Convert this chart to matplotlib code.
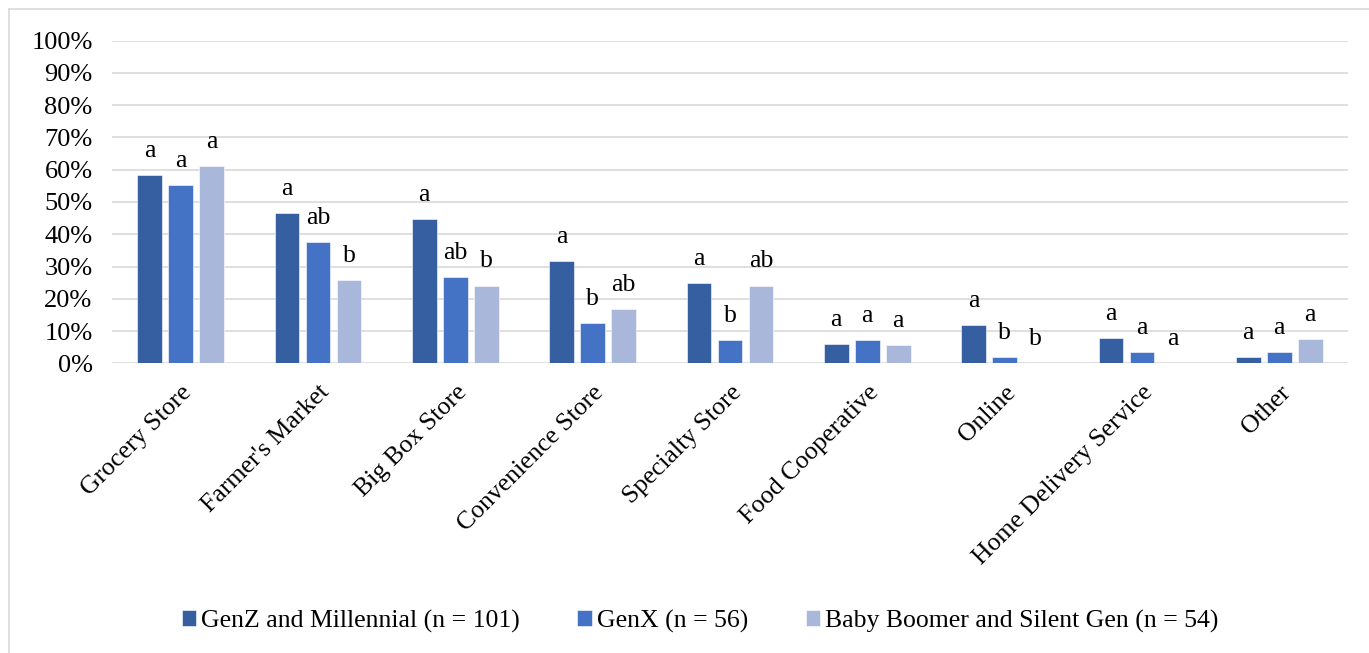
import matplotlib
matplotlib.use("Agg")
import matplotlib.pyplot as plt
import numpy as np
from matplotlib.lines import Line2D

# Share of respondents (%) using each food outlet, by generation
categories = ["Grocery Store", "Farmer's Market", "Big Box Store", "Convenience Store",
              "Specialty Store", "Food Cooperative", "Online", "Home Delivery Service", "Other"]
series_names = ["GenZ and Millennial (n = 101)", "GenX (n = 56)",
                "Baby Boomer and Silent Gen (n = 54)"]
genz_millennial = [58.4, 46.5, 44.6, 31.7, 24.8, 5.9, 11.9, 7.9, 2.0]
genx = [55.4, 37.5, 26.8, 12.5, 7.1, 7.1, 1.8, 3.6, 3.6]
boomer_silent = [61.1, 25.9, 24.1, 16.7, 24.1, 5.6, 0.0, 0.0, 7.4]

# Significance letters
genz_letters = ["a", "a", "a", "a", "a", "a", "a", "a", "a"]
genx_letters = ["a", "ab", "ab", "b", "b", "a", "b", "a", "a"]
boomer_letters = ["a", "b", "b", "ab", "ab", "a", "b", "a", "a"]

y_ticks = [0, 10, 20, 30, 40, 50, 60, 70, 80, 90, 100]
y_tick_labels = [f"{t}%" for t in y_ticks]

colors = ["#355FA0", "#4472C4", "#A9B7DB"]

plt.rcParams["font.family"] = ["Liberation Serif", "DejaVu Serif"]
FS = 18.5

W, H = 1369, 653
fig = plt.figure(figsize=(W / 100, H / 100), dpi=100)
ax = fig.add_axes([112 / W, 1 - 363.3 / H, (1348 - 112) / W, (363.3 - 40.7) / H])

# Chart border (only left and top edges fall inside the image)
fig.add_artist(Line2D([8.5 / W, 8.5 / W], [0, 1 - 9 / H], transform=fig.transFigure,
                      color="#D9D9D9", lw=1.2))
fig.add_artist(Line2D([8.5 / W, 1], [1 - 9 / H, 1 - 9 / H], transform=fig.transFigure,
                      color="#D9D9D9", lw=1.2))

x = np.arange(len(categories))
step = 0.226
width = 0.178
all_values = [genz_millennial, genx, boomer_silent]
all_letters = [genz_letters, genx_letters, boomer_letters]
for i, (vals, letters, c, name) in enumerate(zip(all_values, all_letters, colors, series_names)):
    pos = x + (i - 1) * step
    ax.bar(pos, vals, width=width, color=c, label=name, zorder=3,
           edgecolor="#FFFFFF", linewidth=0.4)
    for px, v, lab in zip(pos, vals, letters):
        ax.annotate(lab, (px, v), xytext=(0, 13), textcoords="offset points",
                    ha="center", va="baseline", fontsize=FS, color="black")

ax.set_xlim(-0.5, len(categories) - 0.5)
ax.set_ylim(0, 100)
ax.set_yticks(y_ticks)
ax.set_yticklabels(y_tick_labels, fontsize=19)
ax.yaxis.grid(True, color="#D9D9D9", lw=1.2, zorder=0)
ax.set_axisbelow(True)
for s in ax.spines.values():
    s.set_visible(False)
ax.tick_params(axis="y", length=0, pad=14)
ax.tick_params(axis="x", length=0, pad=13)
ax.set_xticks(x)
ax.set_xticklabels(categories, fontsize=FS, rotation=45, ha="right",
                   rotation_mode="anchor")
for lbl in ax.get_xticklabels():
    lbl.set_x(lbl.get_position()[0])

fig.legend(loc="center", bbox_to_anchor=(700 / W, 1 - 621 / H), ncol=3,
           frameon=False, fontsize=FS, handlelength=0.55, handleheight=0.55,
           handletextpad=0.2, columnspacing=2.25)

fig.savefig("out.png", dpi=100, facecolor="white")
